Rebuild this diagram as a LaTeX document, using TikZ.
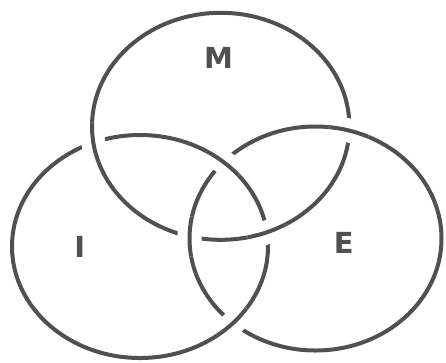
\documentclass[tikz,border=0pt]{standalone}
\usepackage{fontspec}
\setmainfont{DejaVu Sans}
\usetikzlibrary{intersections}
\definecolor{ringgray}{HTML}{505050}
\begin{document}
\begin{tikzpicture}[x=1pt,y=-1pt,
  ring/.style={draw=ringgray, line width=4pt},
  halo/.style={draw=white, line width=24pt},
  lbl/.style={text=ringgray, inner sep=0pt, font=\fontsize{29}{29}\selectfont\bfseries}]
\useasboundingbox[fill=white] (0,0) rectangle (446,362);
\def\ellM{(220.7,126.3) ellipse [x radius=128.7, y radius=113.5]}
\def\ellI{(140,246.5) ellipse [x radius=128, y radius=111.5]}
\def\ellE{(315.5,238.5) ellipse [x radius=126, y radius=112]}
\path[name path=M] \ellM;
\path[name path=I] \ellI;
\path[name path=E] \ellE;
\draw[ring] \ellM;
\draw[ring] \ellI;
\draw[ring] \ellE;
\path[name intersections={of=M and I, name=mi}];
\path[name intersections={of=E and M, name=em}];
\path[name intersections={of=I and E, name=ie}];
% M over I
\foreach \k in {1,2}{
  \begin{scope}\clip (mi-\k) circle (20);
    \draw[halo] \ellM; \draw[ring] \ellM;
  \end{scope}}
% E over M
\foreach \k in {1,2}{
  \begin{scope}\clip (em-\k) circle (20);
    \draw[halo] \ellE; \draw[ring] \ellE;
  \end{scope}}
% I over E
\foreach \k in {1,2}{
  \begin{scope}\clip (ie-\k) circle (20);
    \draw[halo] \ellI; \draw[ring] \ellI;
  \end{scope}}
\node[lbl] (labelM) at (218.5,58) {M};
\node[lbl] (labelI) at (79.7,246.5) {I};
\node[lbl] (labelE) at (343.8,243) {E};
\end{tikzpicture}
\end{document}
